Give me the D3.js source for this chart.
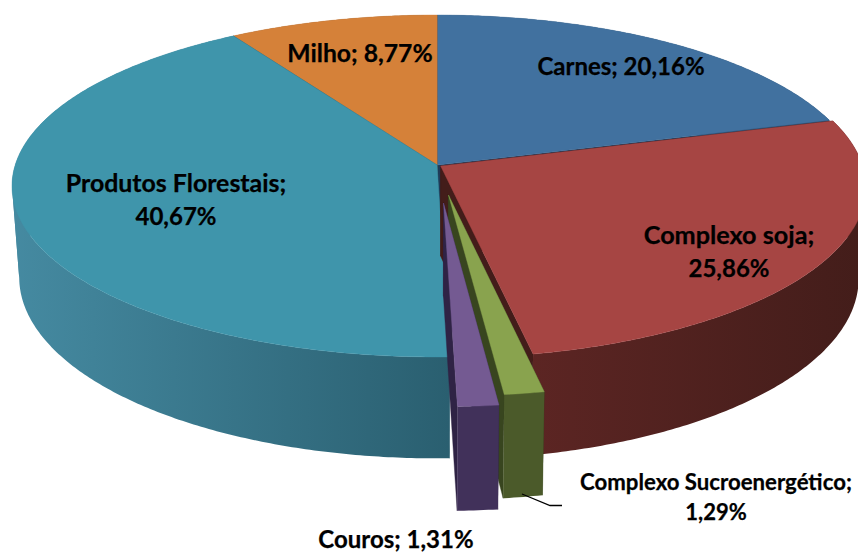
<!DOCTYPE html>
<html><head><meta charset="utf-8">
<style>html,body{margin:0;padding:0;background:#fff;overflow:hidden}svg{display:block}</style>
<script src="https://cdn.jsdelivr.net/npm/d3@7/dist/d3.min.js"></script>
</head><body><svg id="c" width="858" height="552"><defs></defs></svg>
<script>
const categories = ["Carnes","Complexo soja","Complexo Sucroenergético","Couros","Produtos Florestais","Milho"];
const shares = [20.16,25.86,1.29,1.31,40.67,8.77];
const explodeBy = [0,0.01,0.176,0.22,0,0];
const topColors = ["#41719f","#a64543","#89a34e","#745a92","#3f95ab","#d58139"];
const wallLeft = ["#2a4a6b","#5c2523","#4b5a2a","#41315a","#458aa1","#8a5426"];
const wallRight = ["#2a4a6b","#431d1a","#4b5a2a","#41315a","#2a5f70","#8a5426"];
const sideColors = ["#1f3a58","#431d1a","#38451f","#2f2345","#2a5f70","#8a5426"];
const drawOrder = [0,5,4,1,2,3];

const cx=437, cy=165, R=421.8, S=168.4, K=0.1228;
const depth=90, depthGrow=10, bottomScale=0.983;
const svg=d3.select("#c"), defs=svg.select("defs");
const arcs=d3.pie().sort(null).value(d=>d)(shares);
const line=d3.line();
const pt=(th,r,e,mid)=>[r*Math.sin(th)+e*Math.sin(mid), -r*Math.cos(th)-e*Math.cos(mid)];
const top_=([u,v])=>{const w=1-K*v;return [cx+R*u/w,cy+S*v/w];};
const bot_=([u,v])=>{const w=1-K*v;return [cx+bottomScale*R*u/w,cy+S*v/w+depth+depthGrow*v/w];};

drawOrder.forEach(i=>{
  const a=arcs[i], e=explodeBy[i], mid=(a.startAngle+a.endAngle)/2;
  const ts=d3.range(0,Math.ceil((a.endAngle-a.startAngle)/0.01)+1)
     .map(n=>Math.min(a.startAngle+n*0.01,a.endAngle));
  const g=svg.append("g").attr("class","slice").attr("data-name",categories[i]);
  // radial cut walls
  [a.startAngle,a.endAngle].forEach(th=>{
    const A=pt(0,0,e,mid), B=pt(th,1,e,mid);
    g.append("path").attr("d",line([top_(A),top_(B),bot_(B),bot_(A)])+"Z")
     .attr("fill",sideColors[i]).attr("stroke",sideColors[i]).attr("stroke-width",0.4);
  });
  // curved outer wall with a horizontal gradient, split at the silhouette so
  // front and back parts do not cancel each other out in the fill rule
  const rim=ts.map(t=>pt(t,1,e,mid));
  const rimX=rim.map(p=>top_(p)[0]);
  const cuts=[...new Set([0,d3.leastIndex(rimX),d3.greatestIndex(rimX),rim.length-1])].sort(d3.ascending);
  const allX=[...rim.map(p=>top_(p)[0]),...rim.map(p=>bot_(p)[0])];
  const [x0,x1]=d3.extent(allX);
  const grad=defs.append("linearGradient").attr("id","wall"+i)
    .attr("gradientUnits","userSpaceOnUse").attr("x1",x0).attr("x2",x1).attr("y1",0).attr("y2",0);
  grad.append("stop").attr("offset",0).attr("stop-color",wallLeft[i]);
  grad.append("stop").attr("offset",1).attr("stop-color",wallRight[i]);
  d3.pairs(cuts).forEach(([c0,c1])=>{
    const part=rim.slice(c0,c1+1);
    const wallPoly=[...part.map(top_),...part.slice().reverse().map(bot_)];
    g.append("path").attr("d",line(wallPoly)+"Z").attr("fill",`url(#wall${i})`);
  });
  // top face
  const poly=[pt(0,0,e,mid),...rim].map(top_);
  g.append("path").attr("d",line(poly)+"Z").attr("fill",topColors[i])
   .attr("stroke",topColors[i]).attr("stroke-width",0.4);
});

// leader line
svg.append("path").attr("d",line([[522,494],[550,505.5],[562,505.5]]))
   .attr("fill","none").attr("stroke","#000").attr("stroke-width",1.3);

const fmt=v=>v.toFixed(2).replace(".",",")+"%";
const labelLayout=[
 {i:0,x:621,ys:[75],sizes:[24]},
 {i:1,x:729,ys:[244,277],sizes:[25.2,24]},
 {i:2,x:716,ys:[490,520],sizes:[22.2,22]},
 {i:3,x:396,ys:[548],sizes:[24]},
 {i:4,x:176,ys:[192,225],sizes:[24.9,24]},
 {i:5,x:360,ys:[62],sizes:[24.7]}
];
labelLayout.forEach(l=>{
  const name=categories[l.i]+";", val=fmt(shares[l.i]);
  const rows=l.ys.length===1?[name+" "+val]:[name,val];
  rows.forEach((s,j)=>svg.append("text").attr("x",l.x).attr("y",l.ys[j])
    .attr("text-anchor","middle").attr("font-family","Lato, 'Open Sans', sans-serif")
    .attr("font-weight",700).attr("font-size",l.sizes[j]).attr("fill","#000")
    .attr("stroke","#000").attr("stroke-width",0.25).text(s));
});
</script></body></html>
